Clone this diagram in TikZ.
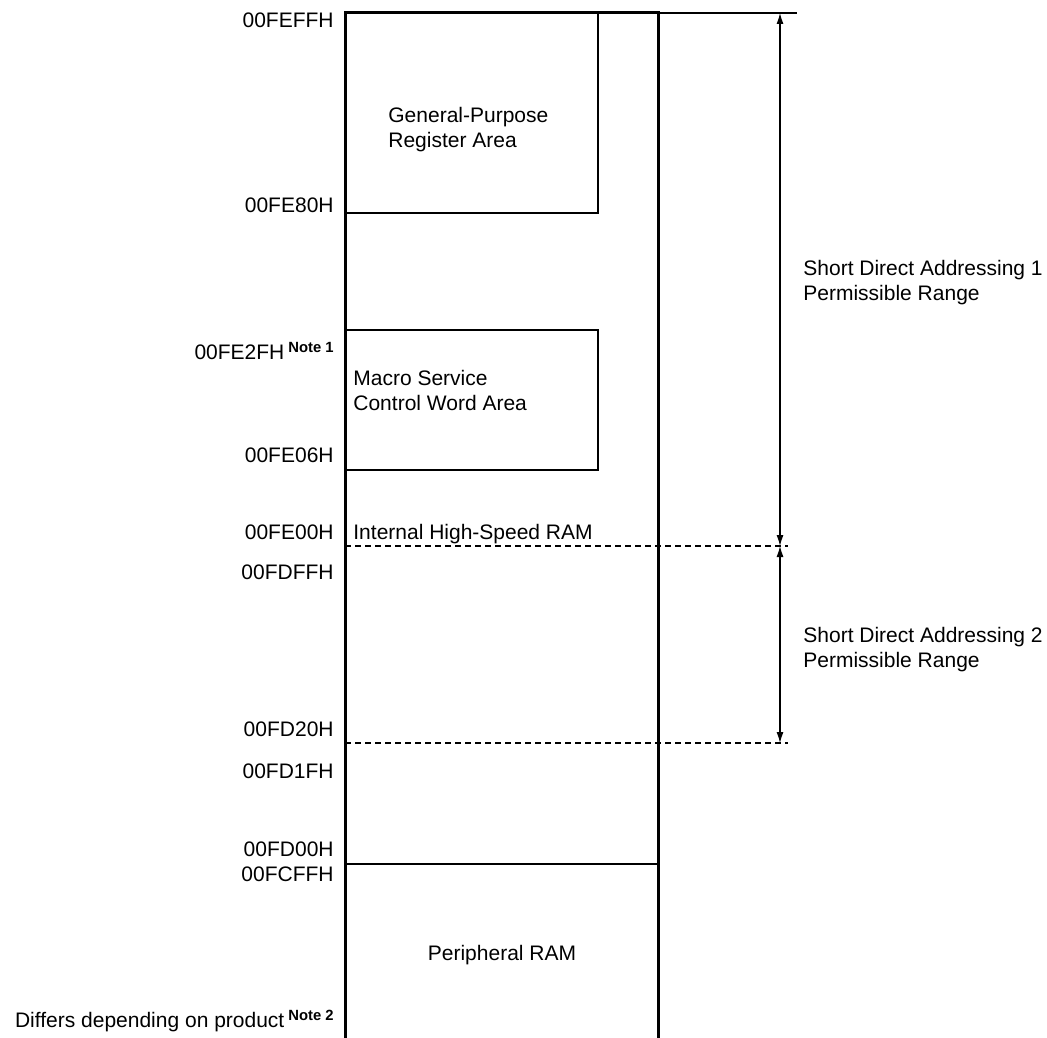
\documentclass[tikz,border=0pt]{standalone}
\usepackage{fontspec}
\setmainfont{Liberation Sans}
\usetikzlibrary{arrows.meta,positioning}
\newcommand{\notemark}[1]{\hspace{2pt}\raisebox{3.6pt}{\fontsize{7.4}{8}\selectfont\bfseries #1}}
\tikzset{
  addr/.style={anchor=base east,inner sep=0pt,font=\fontsize{10.5}{12.5}\selectfont},
  area/.style={anchor=base west,align=left,inner sep=0pt,font=\fontsize{10.5}{12.5}\selectfont},
  wall/.style={line width=1.5pt,line cap=rect},
  rule/.style={line width=0.55pt},
  bound/.style={line width=0.55pt,dash pattern=on 3pt off 2pt},
  span/.style={{Latex[length=5.5pt,width=3.5pt]}-{Latex[length=5.5pt,width=3.5pt]},line width=0.55pt}
}

\begin{document}
\begin{tikzpicture}[x=0.5pt,y=-0.5pt]
\useasboundingbox (0,0) rectangle (1047,1037);
% memory space outline
\coordinate (tl) at (345,13); \coordinate (tr) at (658,13);
\coordinate (bl) at (345,1040); \coordinate (br) at (658,1040);
\coordinate (top) at (797,13);
\draw[rule] (tr) -- (top);
\draw[wall] (bl) -- (tl) -- (tr) -- (br);
% inner areas
\draw[rule] (598,13) |- (345,213);
\draw[rule] (345,330) -| (598,470) -- (345,470);
\draw[rule] (345,864) -- (658,864);
% range boundaries
\coordinate (b1l) at (345,546); \coordinate (b1r) at (788,546);
\coordinate (b2l) at (345,743); \coordinate (b2r) at (788,743);
\draw[bound] (b1l) -- (b1r);
\draw[bound] (b2l) -- (b2r);
\coordinate (r0) at (780,13); \coordinate (r1) at (780,546); \coordinate (r2) at (780,743);
\draw[span] (r0) -- (r1);
\draw[span] (r1) -- (r2);
% addresses
\foreach \y/\t [count=\i] in {27.5/00FEFFH,212.5/00FE80H,359.5/{00FE2FH\notemark{Note 1}},
  462.5/00FE06H,539.5/00FE00H,579.5/00FDFFH,736.5/00FD20H,778.5/00FD1FH,
  856.5/00FD00H,881.5/00FCFFH,1027.5/{Differs depending on product\notemark{Note 2}}}
  \node[addr] (a\i) at (334,\y) {\t};
% area names (base = last line)
\node[area] (gpr) at (388,147.5) {General-Purpose\\Register Area};
\node[area] (msc) at (353,410.5) {Macro Service\\Control Word Area};
\node[area] (ihs) at (353,539.5) {Internal High-Speed RAM};
\node[area,anchor=base] (pram) at (502,960.5) {Peripheral RAM};
\node[area] (sda1) at (803,300.5) {Short Direct Addressing 1\\Permissible Range};
\node[area] (sda2) at (803,667.5) {Short Direct Addressing 2\\Permissible Range};
\end{tikzpicture}
\end{document}
